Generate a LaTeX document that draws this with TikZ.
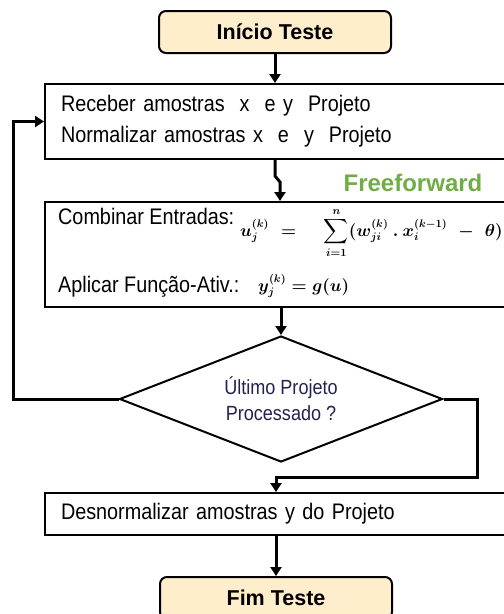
\documentclass[tikz,border=0pt]{standalone}
\usepackage{exscale}
\usepackage{fontspec}
\setmainfont{Liberation Sans}[FakeStretch=0.88]
\newfontfamily\plainsans{Liberation Sans}
\usetikzlibrary{arrows.meta, positioning, shapes.geometric}
\definecolor{beige}{RGB}{255,238,204}
\definecolor{leafgreen}{RGB}{112,173,71}
\definecolor{inknavy}{RGB}{35,35,80}

\newsavebox{\somabox}
\newsavebox{\ativbox}

\tikzset{
  terminal/.style={draw, line width=2pt, rounded corners=7pt, fill=beige,
    minimum width=232pt, minimum height=42pt, inner sep=0pt,
    font=\plainsans\fontsize{21.5}{24}\selectfont\bfseries},
  procbox/.style={draw, line width=2pt, anchor=north west, minimum width=480pt,
    inner xsep=16pt, inner ysep=0pt, text width=448pt, align=left,
    font=\fontsize{22.5}{31}\selectfont},
  boxtext/.style={anchor=west, inner sep=0pt, font=\fontsize{22.5}{25}\selectfont},
  formtext/.style={anchor=west, inner sep=0pt},
  decision/.style={draw, line width=2pt, shape=diamond, aspect=2.56,
    minimum width=323pt, minimum height=126pt, inner sep=0pt, align=center,
    text=inknavy, font=\fontsize{20.5}{26}\selectfont},
  flow/.style={line width=3pt, -{Triangle[length=9pt,width=11pt]}}
}

\begin{document}
\sbox{\somabox}{\fontsize{16}{18}\selectfont\boldmath
  $\displaystyle u_j^{(k)} \mskip6mu=\mskip20mu \sum_{i=1}^{n}(w_{ji}^{(k)}\mskip4mu.\mskip4mu x_i^{(k-1)} \mskip6mu-\mskip6mu \theta)$}
\sbox{\ativbox}{\fontsize{16}{18}\selectfont\boldmath $y_j^{(k)} = g(u)$}
\begin{tikzpicture}[x=1pt, y=-1pt]

  \useasboundingbox (0,0) rectangle (504,614);
  \fill[white] (0,0) rectangle (504,614);
  \clip (0,0) rectangle (504,614);

  % inicio
  \node[terminal] (inicio) at (275,32) {Início Teste};

  % receber e normalizar
  \node[procbox, minimum height=75pt] (receber) at (44,83)
    {Receber amostras \ x \ e y \ Projeto\\Normalizar amostras x \ e \ y \ Projeto};

  % feedforward
  \node[font=\plainsans\fontsize{24}{26}\selectfont\bfseries, text=leafgreen, inner sep=0pt]
    (ffwd) at (413,183) {Freeforward};
  \node[procbox, minimum height=105pt] (ffbox) at (44,201) {};
  \node[boxtext] (combinar) at (58,216) {Combinar Entradas:};
  \node[formtext] (soma) at (240,233) {\usebox{\somabox}};
  \node[boxtext] (aplicar) at (58,287) {Aplicar Função-Ativ.:};
  \node[formtext] (ativ) at (258,286) {\usebox{\ativbox}};

  % decisao
  \node[decision] (decide) at (281,399) {Último Projeto\\Processado ?};

  % desnormalizar
  \node[procbox, minimum height=42pt] (desnorm) at (44,492)
    {Desnormalizar amostras y do Projeto};

  % fim
  \node[terminal, anchor=north] (fim) at (276,576) {Fim Teste};

  \coordinate (kink) at (280,182);
  \coordinate (volta) at (477,477);
  \coordinate (laco) at (13,399);

  % ligacoes
  \draw[flow] (inicio.south) -- (inicio.south |- receber.north);
  \draw[flow] (receber.south -| inicio) -- ++(0,16) -- (kink) -- (kink |- ffbox.north);
  \draw[flow] (ffbox.south -| decide) -- (decide.north);
  \draw[flow] (decide.west) -- (laco) |- (receber.west);
  \draw[flow] (decide.east) -| (volta) -| (fim |- desnorm.north);
  \draw[flow] (desnorm.south -| fim) -- (fim.north);

\end{tikzpicture}
\end{document}
